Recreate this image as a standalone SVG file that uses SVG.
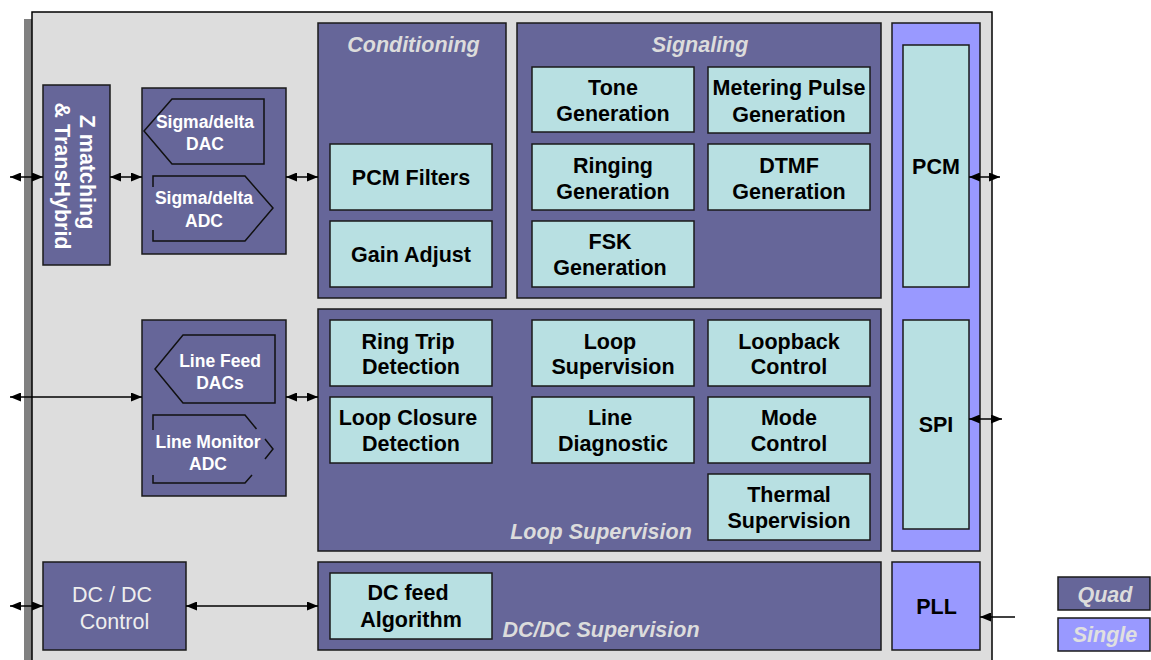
<svg xmlns="http://www.w3.org/2000/svg" width="1151" height="660" viewBox="0 0 1151 660">
<style>
.quad{fill:#666699;stroke:#1a1a1a;stroke-width:1.5}
.single{fill:#9999ff;stroke:#1a1a1a;stroke-width:1.5}
.cyan{fill:#b8e0e2;stroke:#1a1a1a;stroke-width:1.5}
.outl{fill:none;stroke:#111;stroke-width:1.5}
.lbl{font-family:"Liberation Sans",Arial,sans-serif;font-weight:bold;font-size:21.5px;fill:#000;text-anchor:middle}
.wl{font-family:"Liberation Sans",Arial,sans-serif;font-weight:bold;font-size:17.5px;fill:#fff;text-anchor:middle}
.zl{font-family:"Liberation Sans",Arial,sans-serif;font-weight:bold;font-size:21.5px;fill:#fff;text-anchor:middle}
.reg{font-family:"Liberation Sans",Arial,sans-serif;font-size:21.5px;fill:#eeeeee;text-anchor:middle}
.ttl{font-family:"Liberation Sans",Arial,sans-serif;font-weight:bold;font-style:italic;font-size:21.5px;fill:#dcdcdc;text-anchor:middle}
.conn{stroke:#000;stroke-width:1.5;fill:none}
</style>
<defs>
<marker id="ah" viewBox="0 0 11 9" refX="11" refY="4.5" markerWidth="11" markerHeight="9" markerUnits="userSpaceOnUse" orient="auto-start-reverse">
<path d="M0,0 L11,4.5 L0,9 z" fill="#000"/>
</marker>
</defs>
<rect x="0" y="0" width="1151" height="660" fill="#fff"/>
<g id="chip">
<rect x="24" y="19" width="9" height="660" fill="#808080"/>
<rect x="32" y="12" width="960" height="670" fill="#dddddd" stroke="#000" stroke-width="1.5"/>
</g>
<g id="zmatch">
<rect class="quad" x="43" y="85" width="67" height="180"/>
<text class="zl" transform="translate(80,172) rotate(90)">Z matching</text>
<text class="zl" transform="translate(55,176) rotate(90)">&amp; TransHybrid</text>
</g>
<g id="sigmadelta">
<rect class="quad" x="142" y="88" width="144" height="166"/>
<path class="outl" d="M172,99 H264 V164 H172 L144,131 Z"/>
<text class="wl" x="205" y="128">Sigma/delta</text>
<text class="wl" x="205" y="150">DAC</text>
<path class="outl" d="M153,187 V176 H245 L273,208 L245,241 H153 V230"/>
<text class="wl" x="204" y="204">Sigma/delta</text>
<text class="wl" x="204" y="226.5">ADC</text>
</g>
<g id="linefeed">
<rect class="quad" x="142" y="320" width="144" height="176"/>
<path class="outl" d="M183,335 H275 V403 H183 L155,369 Z"/>
<text class="wl" x="220" y="366.5">Line Feed</text>
<text class="wl" x="220" y="388.5">DACs</text>
<path class="outl" d="M153,430 V415 H245 L256.5,429 M265,439 L273,449 L265,459 M252,475 L245,483 H153 V475"/>
<text class="wl" x="208" y="447.5">Line Monitor</text>
<text class="wl" x="208" y="470">ADC</text>
</g>
<g id="dcdccontrol">
<rect class="quad" x="43" y="562" width="143" height="88"/>
<text class="reg" x="112" y="601.5">DC / DC</text>
<text class="reg" x="114.5" y="628.5">Control</text>
</g>
<g id="conditioning">
<rect class="quad" x="318" y="23" width="188" height="275"/>
<text class="ttl" x="413.5" y="51.5">Conditioning</text>
</g>
<g id="pcmfilters">
<rect class="cyan" x="330" y="144" width="162" height="66"/>
<text class="lbl" x="411" y="185">PCM Filters</text>
</g>
<g id="gainadjust">
<rect class="cyan" x="330" y="221" width="162" height="66"/>
<text class="lbl" x="411" y="261.5">Gain Adjust</text>
</g>
<g id="signaling">
<rect class="quad" x="517" y="23" width="364" height="275"/>
<text class="ttl" x="700" y="51.5">Signaling</text>
</g>
<g id="tone">
<rect class="cyan" x="532" y="67" width="162" height="65"/>
<text class="lbl" x="613" y="95">Tone</text>
<text class="lbl" x="613" y="121">Generation</text>
</g>
<g id="metering">
<rect class="cyan" x="708" y="67" width="162" height="66"/>
<text class="lbl" x="789" y="95">Metering Pulse</text>
<text class="lbl" x="789" y="121.5">Generation</text>
</g>
<g id="ringing">
<rect class="cyan" x="532" y="144" width="162" height="66"/>
<text class="lbl" x="613" y="173">Ringing</text>
<text class="lbl" x="613" y="198.5">Generation</text>
</g>
<g id="dtmf">
<rect class="cyan" x="708" y="144" width="162" height="66"/>
<text class="lbl" x="789" y="173">DTMF</text>
<text class="lbl" x="789" y="198.5">Generation</text>
</g>
<g id="fsk">
<rect class="cyan" x="532" y="221" width="162" height="66"/>
<text class="lbl" x="610" y="248.5">FSK</text>
<text class="lbl" x="610" y="275">Generation</text>
</g>
<g id="loopsupervisionblock">
<rect class="quad" x="318" y="309" width="563" height="242"/>
<text class="ttl" x="601" y="538.5">Loop Supervision</text>
</g>
<g id="ringtrip">
<rect class="cyan" x="330" y="320" width="162" height="66"/>
<text class="lbl" x="408" y="348.5">Ring Trip</text>
<text class="lbl" x="411" y="374">Detection</text>
</g>
<g id="loopclosure">
<rect class="cyan" x="330" y="397" width="162" height="66"/>
<text class="lbl" x="408" y="425">Loop Closure</text>
<text class="lbl" x="411" y="450.5">Detection</text>
</g>
<g id="loopsup">
<rect class="cyan" x="532" y="320" width="162" height="66"/>
<text class="lbl" x="610" y="348.5">Loop</text>
<text class="lbl" x="613" y="374">Supervision</text>
</g>
<g id="linediag">
<rect class="cyan" x="532" y="397" width="162" height="66"/>
<text class="lbl" x="610" y="425">Line</text>
<text class="lbl" x="613" y="450.5">Diagnostic</text>
</g>
<g id="loopback">
<rect class="cyan" x="708" y="320" width="162" height="66"/>
<text class="lbl" x="789" y="348.5">Loopback</text>
<text class="lbl" x="789" y="374">Control</text>
</g>
<g id="modecontrol">
<rect class="cyan" x="708" y="397" width="162" height="66"/>
<text class="lbl" x="789" y="425">Mode</text>
<text class="lbl" x="789" y="450.5">Control</text>
</g>
<g id="thermal">
<rect class="cyan" x="708" y="474" width="162" height="66"/>
<text class="lbl" x="789" y="501.5">Thermal</text>
<text class="lbl" x="789" y="528">Supervision</text>
</g>
<g id="dcdcsup">
<rect class="quad" x="318" y="562" width="563" height="88"/>
<text class="ttl" x="601" y="637">DC/DC Supervision</text>
</g>
<g id="dcfeed">
<rect class="cyan" x="330" y="573" width="162" height="66"/>
<text class="lbl" x="408" y="600">DC feed</text>
<text class="lbl" x="411" y="627">Algorithm</text>
</g>
<g id="interface">
<rect class="single" x="892" y="23" width="88" height="528"/>
</g>
<g id="pcm">
<rect class="cyan" x="903" y="45" width="66" height="242"/>
<text class="lbl" x="936" y="173.5">PCM</text>
</g>
<g id="spi">
<rect class="cyan" x="903" y="320" width="66" height="209"/>
<text class="lbl" x="936" y="431.5">SPI</text>
</g>
<g id="pll">
<rect class="single" x="892" y="562" width="88" height="88"/>
<text class="lbl" x="936.5" y="614">PLL</text>
</g>
<g id="legend-quad">
<rect class="quad" x="1058" y="577" width="92" height="33"/>
<text class="ttl" x="1105" y="601.5">Quad</text>
</g>
<g id="legend-single">
<rect class="single" x="1058" y="618" width="92" height="33"/>
<text class="ttl" x="1105" y="641.5" style="fill:#e0e0e0">Single</text>
</g>
<g id="connectors">
<line class="conn" x1="10" y1="177" x2="43" y2="177" marker-start="url(#ah)" marker-end="url(#ah)"/>
<line class="conn" x1="110" y1="177" x2="142" y2="177" marker-start="url(#ah)" marker-end="url(#ah)"/>
<line class="conn" x1="286" y1="177" x2="318" y2="177" marker-start="url(#ah)" marker-end="url(#ah)"/>
<line class="conn" x1="10" y1="397" x2="142" y2="397" marker-start="url(#ah)" marker-end="url(#ah)"/>
<line class="conn" x1="286" y1="397" x2="318" y2="397" marker-start="url(#ah)" marker-end="url(#ah)"/>
<line class="conn" x1="10" y1="606" x2="43" y2="606" marker-start="url(#ah)" marker-end="url(#ah)"/>
<line class="conn" x1="186" y1="606" x2="318" y2="606" marker-start="url(#ah)" marker-end="url(#ah)"/>
<line class="conn" x1="969" y1="177" x2="1000" y2="177" marker-start="url(#ah)" marker-end="url(#ah)"/>
<line class="conn" x1="969" y1="419" x2="1002" y2="419" marker-start="url(#ah)" marker-end="url(#ah)"/>
<line class="conn" x1="1015" y1="617" x2="980" y2="617" marker-end="url(#ah)"/>
</g>
</svg>
